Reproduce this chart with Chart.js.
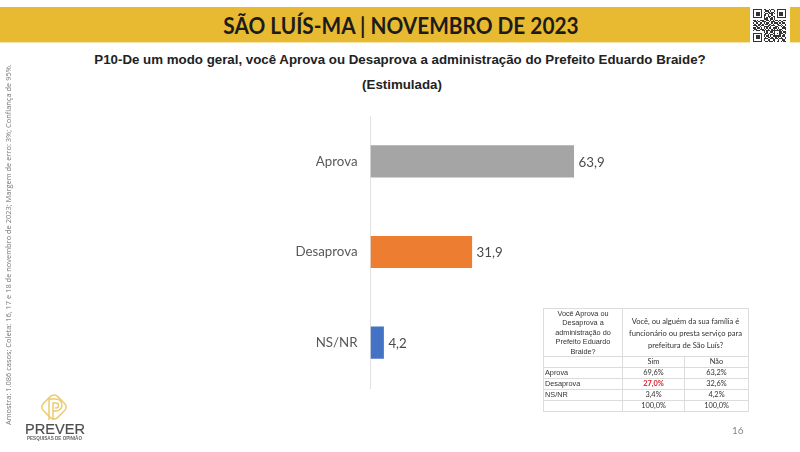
<!DOCTYPE html>
<html><head><meta charset="utf-8">
<script src="https://cdn.jsdelivr.net/npm/chart.js@4"></script>
<style>
html,body{margin:0;padding:0;background:#fff;width:800px;height:452px;overflow:hidden}
#wrap{position:relative;width:800px;height:452px}
#c{position:absolute;left:0;top:0}
.abs{position:absolute}
#band{left:0;top:7px;width:800px;height:35px;background:#E8BA32;border-bottom:1px solid #f3e3a8;box-sizing:content-box}
#head{left:0;top:7px;width:802px;text-align:center;font:bold 23.5px/36px "Lato",sans-serif;color:#1c1c1c;transform:scaleX(0.885);transform-origin:401px 0}
#qrbox{left:750px;top:6px;width:40px;height:38px;background:#fff}
.q{left:0;width:800px;text-align:center;font:bold 13.3px "Liberation Sans",sans-serif;color:#222}
#side{left:3px;top:425px;transform-origin:0 0;transform:rotate(-90deg);white-space:nowrap;font:7.45px "Open Sans",sans-serif;color:#777;width:360px}
#pg{left:732px;top:424px;font:10px "Lato",sans-serif;color:#8a8a8a}
table{position:absolute;left:543px;top:308px;width:205px;height:102px;border-collapse:collapse;table-layout:fixed}
td{border:1px solid #dcdcdc;text-align:center;padding:0;font:7.4px/9.4px "Lato",sans-serif;color:#333}
td.a{font-family:"Liberation Sans",sans-serif;font-size:7.3px}
td.l{text-align:left;padding-left:1px}
#logo{left:2px;top:390px}
</style></head><body>
<div id="wrap">
<div class="abs" id="band"></div>
<div class="abs" id="head">SÃO LUÍS-MA | NOVEMBRO DE 2023</div>
<div class="abs" id="qrbox"><svg id="qr" width="33" height="33" viewBox="0 0 25 25" style="margin:3px 3px" shape-rendering="crispEdges"></svg></div>
<div class="abs q" style="top:52px">P10-De um modo geral, você Aprova ou Desaprova a administração do Prefeito Eduardo Braide?</div>
<div class="abs q" style="top:77px;left:2px">(Estimulada)</div>
<canvas id="c" width="800" height="452"></canvas>
<div class="abs" id="side">Amostra: 1.086 casos; Coleta: 16, 17 e 18 de novembro de 2023; Margem de erro: 3%; Confiança de 95%.</div>
<table>
<colgroup><col style="width:79px"><col style="width:62px"><col style="width:64px"></colgroup>
<tr style="height:47px"><td class="a">Você Aprova ou Desaprova a administração do Prefeito Eduardo Braide?</td><td colspan="2" style="font-size:7.6px;line-height:12px;padding:0 3px">Você, ou alguém da sua família é funcionário ou presta serviço para prefeitura de São Luís?</td></tr>
<tr style="height:11px"><td></td><td>Sim</td><td>Não</td></tr>
<tr style="height:11px"><td class="a l">Aprova</td><td>69,6%</td><td>63,2%</td></tr>
<tr style="height:11px"><td class="a l">Desaprova</td><td style="color:#e0202c;font-weight:bold">27,0%</td><td>32,6%</td></tr>
<tr style="height:11px"><td class="a l">NS/NR</td><td>3,4%</td><td>4,2%</td></tr>
<tr style="height:11px"><td></td><td>100,0%</td><td>100,0%</td></tr>
</table>
<div class="abs" id="pg">16</div>
<svg class="abs" id="logo" width="90" height="54" viewBox="0 0 90 54">
<g fill="none" stroke="#EBCB6E" stroke-width="1.5">
<rect x="42" y="7" width="20" height="20" rx="5" transform="rotate(45 52 17)"/>
<path d="M47 30V9h7a6 6 0 0 1 0 12h-3"/>
<path d="M51 30V13h3a2.5 2.5 0 0 1 0 5h-1"/>
</g>
<text x="23" y="43.5" font-family="Liberation Sans,sans-serif" font-size="14" fill="#4f4f4f" stroke="#4f4f4f" stroke-width="0.2" textLength="60" lengthAdjust="spacingAndGlyphs">PREVER</text>
<text x="25" y="50" font-family="Liberation Sans,sans-serif" font-weight="bold" font-size="4.8" fill="#666" textLength="55" lengthAdjust="spacingAndGlyphs">PESQUISAS DE OPINIÃO</text>
</svg>
</div>
<script>
const categories = ["Aprova", "Desaprova", "NS/NR"];
const seriesValues = [63.9, 31.9, 4.2];
const valueLabels = ["63,9", "31,9", "4,2"];
const barColors = ["#A5A5A5", "#ED7D31", "#4472C4"];

// decorative QR glyph
(function(){
  const rows=["1111111011001011001111111","1000001001110100101000001","1011101010011011001011101","1011101001101110101011101","1011101011010010001011101","1000001010011101101000001","1111111010101010101111111","0000000011100110100000000","1101011100110101011010011","0110100111001011100101100","1011011010110010111010110","0100110101101101001101001","1110101100011011100110101","0011010011110100011001010","1101101010101101110100111","0110011101010010101011001","1011100110111011111110100","0000000010100110100011011","1111111001101001101011101","1000001011010110100010010","1011101010110101111110110","1011101001011010010101001","1011101011100111011011101","1000001010011001100100110","1111111001101110101101011"];
  let s="";rows.forEach((r,y)=>{[...r].forEach((b,x)=>{if(b==="1")s+=`<rect x="${x}" y="${y}" width="1" height="1" fill="#333"/>`;});});
  document.getElementById("qr").innerHTML=s;
})();

const valueLabelPlugin = {
  id: "valueLabels",
  afterDatasetsDraw(chart){
    const {ctx} = chart;
    const meta = chart.getDatasetMeta(0);
    ctx.save();
    ctx.font = '13.3px Lato, sans-serif';
    ctx.fillStyle = "#4a4a4a";
    ctx.textAlign = "left";
    ctx.textBaseline = "middle";
    meta.data.forEach((el,i)=>ctx.fillText(valueLabels[i], el.x+4.5, el.y+1));
    ctx.restore();
  }
};

new Chart(document.getElementById("c"), {
  type: "bar",
  data: { labels: categories, datasets: [{ data: seriesValues, backgroundColor: barColors, barPercentage: 0.355, categoryPercentage: 1 }] },
  options: {
    indexAxis: "y", responsive: false, animation: false,
    layout: { padding: { top: 116, bottom: 64, right: 111, left: 0 } },
    plugins: { legend: { display: false }, tooltip: { enabled: false } },
    scales: {
      x: { display: false, min: 0, max: 100 },
      y: {
        afterFit(s){ s.width = 370.5; },
        grid: { drawOnChartArea: false, drawTicks: false, color: "#E2E2E2" },
        border: { color: "#E2E2E2", width: 1 },
        ticks: { padding: 13, color: "#595959", font: { family: "Lato, sans-serif", size: 13.3 } }
      }
    }
  },
  plugins: [valueLabelPlugin]
});
</script>
</body></html>
